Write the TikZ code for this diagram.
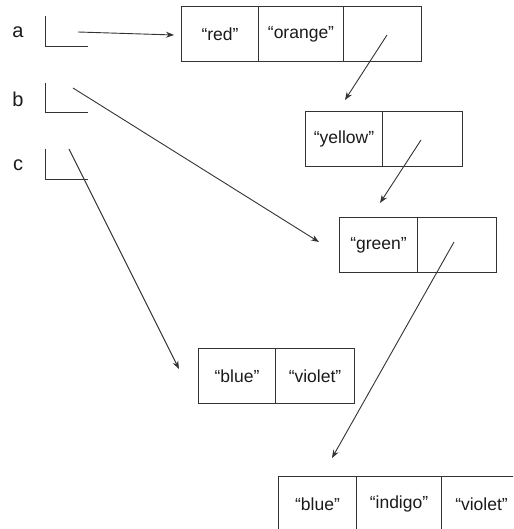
\documentclass[tikz,border=0pt]{standalone}
\usepackage{fontspec}
\setmainfont{Liberation Sans}
\usetikzlibrary{arrows.meta}
\definecolor{linec}{HTML}{333333}
\definecolor{textc}{HTML}{1A1A1A}
\begin{document}
\begin{tikzpicture}[x=1pt,y=-1pt,
  cell/.style={draw=linec, line width=1pt, minimum height=55pt, inner sep=0pt,
    anchor=north west, text=textc, font=\fontsize{17.5}{20}\selectfont},
  varlabel/.style={text=textc, font=\fontsize{20}{24}\selectfont, inner sep=0pt},
  slot/.style={draw=linec, line width=1pt},
  ptr/.style={draw=linec, line width=0.9pt, -{Stealth[length=8pt,width=6pt]}},
]
\useasboundingbox (0,0) rectangle (513,529);
\clip (0,0) rectangle (513,529);

% variables
\node[varlabel] (la) at (18,32) {a};
\node[varlabel] (lb) at (18,99) {b};
\node[varlabel] (lc) at (18,165) {c};
\draw[slot] (45,16) -- (45,47) -- (88,47);
\draw[slot] (45,83) -- (45,113) -- (88,113);
\draw[slot] (45,149) -- (45,180) -- (88,180);

% list 1
\node[cell, minimum width=77pt] (red) at (181,6) {“red”};
\node[cell, minimum width=85pt] (orange) at (258,6) {“orange”};
\node[cell, minimum width=78pt] (n1) at (343,6) {};
% list 2
\node[cell, minimum width=77pt] (yellow) at (305,111) {“yellow”};
\node[cell, minimum width=80pt] (n2) at (382,111) {};
% list 3
\node[cell, minimum width=78pt] (green) at (339,217) {“green”};
\node[cell, minimum width=79pt] (n3) at (417,217) {};
% list 4
\node[cell, minimum width=77pt] (blue1) at (198,348) {“blue”};
\node[cell, minimum width=79pt] (violet1) at (275,348) {“violet”};
% list 5
\node[cell, minimum width=78pt] (blue2) at (278,476) {“blue”};
\node[cell, minimum width=85pt] (indigo) at (356,476) {“indigo”};
\node[cell, minimum width=80pt] (violet2) at (441,476) {“violet”};

% pointer coordinates
\coordinate (sa) at (78,32);   \coordinate (ta) at (174,35);
\coordinate (sb) at (73,88);   \coordinate (tb) at (319,242);
\coordinate (sc) at (69,149);  \coordinate (tc) at (179,369);
\coordinate (s1) at (387,35);  \coordinate (t1) at (345,100);
\coordinate (s2) at (421,140); \coordinate (t2) at (380,203);
\coordinate (s3) at (454,242); \coordinate (t3) at (332,458);

\draw[ptr] (sa) -- (ta);
\draw[ptr] (sb) -- (tb);
\draw[ptr] (sc) -- (tc);
\draw[ptr] (s1) -- (t1);
\draw[ptr] (s2) -- (t2);
\draw[ptr] (s3) -- (t3);
\end{tikzpicture}
\end{document}
